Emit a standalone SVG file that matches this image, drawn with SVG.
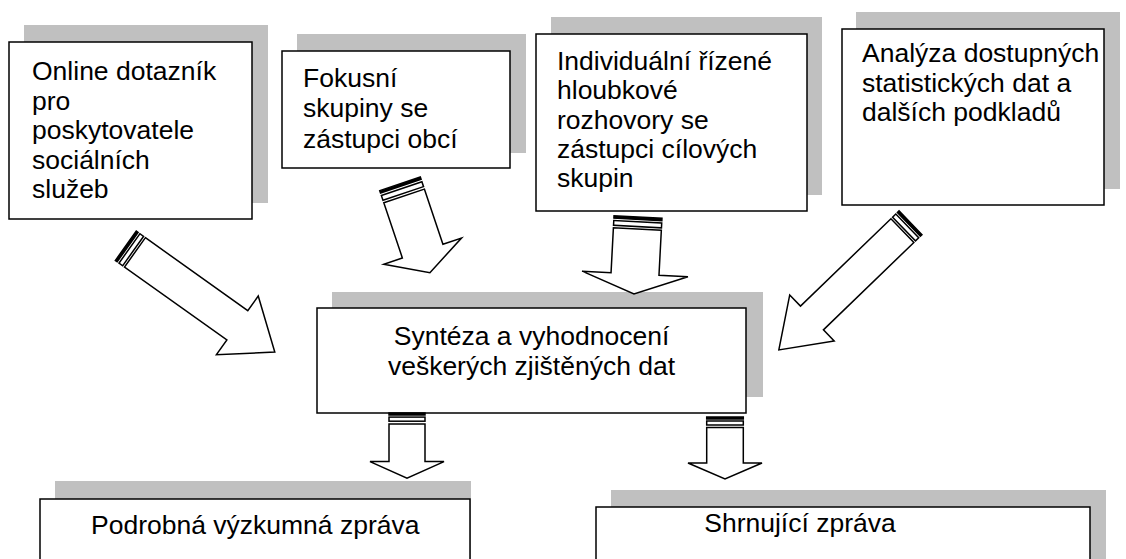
<svg xmlns="http://www.w3.org/2000/svg" width="1126" height="559" viewBox="0 0 1126 559">
<style>
.shadow{fill:#c0c0c0;stroke:none}
.box{fill:#fff;stroke:#000;stroke-width:1.5}
.t{font-family:"Liberation Sans",Arial,sans-serif;font-size:26.5px;fill:#000}
.c{text-anchor:middle}
.ar{fill:#fff;stroke:#000;stroke-width:1.5;stroke-linejoin:miter}
.s1{fill:#000;stroke:#000;stroke-width:1.5}
.s2{fill:#fff;stroke:#000;stroke-width:1.5}
</style>
<rect width="1126" height="559" fill="#fff"/>

<g id="node-online">
<rect class="shadow" x="24" y="25" width="244" height="178"/>
<rect class="box" x="9" y="42" width="243" height="177"/>
<text class="t" x="32" y="80">Online dotazník</text>
<text class="t" x="32" y="109.6">pro</text>
<text class="t" x="32" y="139.2">poskytovatele</text>
<text class="t" x="32" y="168.8">sociálních</text>
<text class="t" x="32" y="198.4">služeb</text>
</g>

<g id="node-fokusni">
<rect class="shadow" x="297" y="34" width="229" height="119"/>
<rect class="box" x="282" y="51" width="228" height="117"/>
<text class="t" x="303" y="87">Fokusní</text>
<text class="t" x="303" y="117">skupiny se</text>
<text class="t" x="303" y="147.5">zástupci obcí</text>
</g>

<g id="node-individualni">
<rect class="shadow" x="551" y="17" width="271" height="178"/>
<rect class="box" x="536" y="34" width="271" height="177"/>
<text class="t" x="557" y="70">Individuální řízené</text>
<text class="t" x="557" y="99.3">hloubkové</text>
<text class="t" x="557" y="128.6">rozhovory se</text>
<text class="t" x="557" y="157.9">zástupci cílových</text>
<text class="t" x="557" y="187.2">skupin</text>
</g>

<g id="node-analyza">
<rect class="shadow" x="856" y="12" width="264" height="177"/>
<rect class="box" x="842" y="29" width="262" height="176"/>
<text class="t" x="862" y="62">Analýza dostupných</text>
<text class="t" x="862" y="91.5">statistických dat a</text>
<text class="t" x="862" y="121">dalších podkladů</text>
</g>

<g id="node-synteza">
<rect class="shadow" x="332" y="292" width="431" height="105"/>
<rect class="box" x="317" y="308" width="429" height="105"/>
<text class="t c" x="531.5" y="345">Syntéza a vyhodnocení</text>
<text class="t c" x="531.5" y="375">veškerých zjištěných dat</text>
</g>

<g id="node-podrobna">
<rect class="shadow" x="55" y="481" width="416" height="90"/>
<rect class="box" x="40" y="499" width="430" height="80"/>
<text class="t" x="91" y="534">Podrobná výzkumná zpráva</text>
</g>

<g id="node-shrnujici">
<rect class="shadow" x="611" y="490" width="495" height="90"/>
<rect class="box" x="596" y="507" width="494" height="80"/>
<text class="t c" x="800" y="532">Shrnující zpráva</text>
</g>

<g id="connectors">
<g transform="translate(125.8,245.8) rotate(35.5)">
<path class="ar" d="M11.25,-18 L137,-18 L137,-36 L183,0 L137,36 L137,18 L11.25,18 Z"/>
<rect class="s1" x="0" y="-18" width="2.25" height="36"/>
<rect class="s2" x="4.5" y="-18" width="4.5" height="36"/>
</g>
<g transform="translate(400,183.8) rotate(71.4)">
<path class="ar" d="M12.8,-21.4 L71,-21.4 L71,-41 L93.8,0 L71,41 L71,21.4 L12.8,21.4 Z"/>
<rect class="s1" x="0" y="-21.4" width="2.56" height="42.8"/>
<rect class="s2" x="5.1" y="-21.4" width="5.1" height="42.8"/>
</g>
<g transform="translate(638,217) rotate(93)">
<path class="ar" d="M12,-24 L57,-24 L57,-53 L77,0 L57,53 L57,24 L12,24 Z"/>
<rect class="s1" x="0" y="-24" width="2.4" height="48"/>
<rect class="s2" x="4.8" y="-24" width="4.8" height="48"/>
</g>
<g transform="translate(910.5,222.8) rotate(136)">
<path class="ar" d="M11.25,-16.5 L137,-16.5 L137,-32 L183,0 L137,32 L137,16.5 L11.25,16.5 Z"/>
<rect class="s1" x="0" y="-16.5" width="2.25" height="33"/>
<rect class="s2" x="4.5" y="-16.5" width="4.5" height="33"/>
</g>
<g transform="translate(407,413) rotate(90)">
<path class="ar" d="M11,-18 L48.6,-18 L48.6,-37 L65.3,0 L48.6,37 L48.6,18 L11,18 Z"/>
<rect class="s1" x="0" y="-18" width="2" height="36"/>
<rect class="s2" x="4.1" y="-18" width="4.1" height="36"/>
</g>
<g transform="translate(725,417) rotate(90)">
<path class="ar" d="M10.5,-18.3 L46,-18.3 L46,-37 L62,0 L46,37 L46,18.3 L10.5,18.3 Z"/>
<rect class="s1" x="0" y="-18.3" width="2" height="36.6"/>
<rect class="s2" x="4" y="-18.3" width="4" height="36.6"/>
</g>
</g>
</svg>
